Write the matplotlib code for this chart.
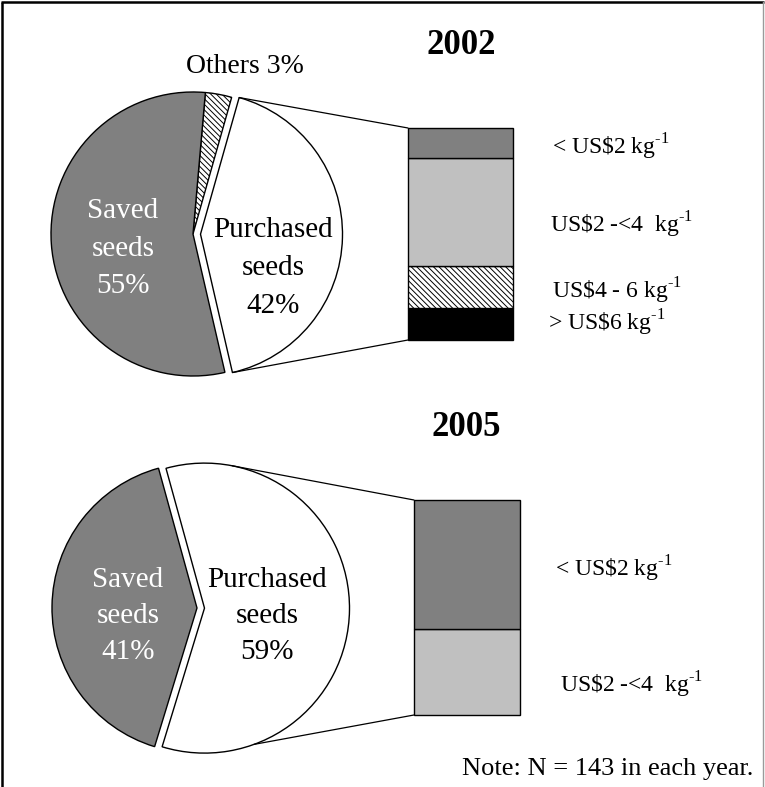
import matplotlib
matplotlib.use('Agg')
import matplotlib.pyplot as plt
from matplotlib.patches import ConnectionPatch
import numpy as np

plt.rcParams['font.family'] = ['Liberation Serif', 'DejaVu Serif']
plt.rcParams['mathtext.fontset'] = 'custom'
plt.rcParams['mathtext.rm'] = 'Liberation Serif'
plt.rcParams['hatch.linewidth'] = 0.7

W, H = 765, 787

# Data (percent)
pie_2002_labels = ['Purchased\nseeds\n42%', 'Others 3%', 'Saved\nseeds\n55%']
pie_2002_values = [42, 3, 55]
bar_2002_labels = ['> US\\$6 kg$^{\\text{-1}}$', 'US\\$4 - 6 kg$^{\\text{-1}}$',
                   'US\\$2 -<4  kg$^{\\text{-1}}$', '< US\\$2 kg$^{\\text{-1}}$']
bar_2002_values = [15, 20, 51, 14]   # share of purchased seeds, bottom to top

pie_2005_labels = ['Purchased\nseeds\n59%', 'Saved\nseeds\n41%']
pie_2005_values = [59, 41]
bar_2005_labels = ['US\\$2 -<4  kg$^{\\text{-1}}$', '< US\\$2 kg$^{\\text{-1}}$']
bar_2005_values = [40, 60]

HATCH = '\\' * 6

fig = plt.figure(figsize=(W / 100, H / 100), dpi=100)
ax = fig.add_axes([0, 0, 1, 1])


def reset_axes():
    ax.set_xlim(0, W)
    ax.set_ylim(0, H)
    ax.set_aspect('equal')
    ax.axis('off')


reset_axes()

# frame
ax.plot([2, 2], [0, H - 2], color='black', lw=1.8, solid_capstyle='butt')
ax.plot([1, W - 1], [H - 2, H - 2], color='black', lw=1.8, solid_capstyle='butt')
ax.plot([W - 2, W - 2], [0, H - 2], color='#9a9a9a', lw=1.0)

wp = dict(edgecolor='black', linewidth=1.0)


def fy(y):
    return H - y


def pie_text(x, baselines, text, color, size=21):
    for line, yb in zip(text.split('\n'), baselines):
        ax.text(x, fy(yb), line, ha='center', va='baseline', fontsize=size, color=color)


def stacked_bar(rect, values, colors, hatches):
    bax = fig.add_axes([rect[0] / W, fy(rect[3]) / H, (rect[2] - rect[0]) / W, (rect[3] - rect[1]) / H])
    bottom = 0
    for v, c, h in zip(values, colors, hatches):
        bars = bax.bar(0.5, v, width=1.0, bottom=bottom, color=c, edgecolor='black',
                       linewidth=1.0, hatch=h)
        for b in bars:
            b.set_clip_on(False)
        bottom += v
    bax.set_xlim(0, 1)
    bax.set_ylim(0, sum(values))
    bax.axis('off')
    return bax


def connect(bax, wedge, angles):
    cx, cy = wedge.center
    r = wedge.r
    for ang, yb in zip(angles, [1, 0]):
        p = (cx + r * np.cos(np.radians(ang)), cy + r * np.sin(np.radians(ang)))
        con = ConnectionPatch(xyA=p, coordsA=ax.transData, xyB=(0, yb), coordsB=bax.transAxes,
                              color='black', lw=0.9)
        fig.add_artist(con)


# ---- 2002 ----
w02, _ = ax.pie(pie_2002_values, colors=['white', 'white', '#808080'], startangle=-77,
                center=(193, fy(234)), radius=142, explode=[7.5, 0, 0],
                wedgeprops=wp, frame=True)
w02[1].set_hatch(HATCH)
reset_axes()

ax.text(461.5, fy(54), '2002', ha='center', va='baseline', fontsize=25, fontweight='bold')
ax.text(245, fy(73), pie_2002_labels[1], ha='center', va='baseline', fontsize=20)
pie_text(123, [218, 255.5, 293], pie_2002_labels[2], 'white')
pie_text(273, [237, 275, 313], pie_2002_labels[0], 'black')

b02 = stacked_bar((408, 128, 513, 340), bar_2002_values,
                  ['black', 'white', '#c0c0c0', '#808080'], [None, HATCH, None, None])
connect(b02, w02[0], [w02[0].theta2, w02[0].theta1])

for lab, x, yb in zip(bar_2002_labels, [548, 552, 550, 552], [330, 299, 232, 155]):
    ax.text(x, fy(yb), lab, ha='left', va='baseline', fontsize=17)

# ---- 2005 ----
w05, _ = ax.pie(pie_2005_values, colors=['white', '#808080'], startangle=-107,
                center=(197, fy(608)), radius=145, explode=[7.5, 0],
                wedgeprops=wp, frame=True)
reset_axes()

ax.text(466, fy(436), '2005', ha='center', va='baseline', fontsize=25, fontweight='bold')
pie_text(128, [587, 623, 659], pie_2005_labels[1], 'white')
pie_text(267, [587, 623, 659], pie_2005_labels[0], 'black')

b05 = stacked_bar((414, 500, 520, 715), bar_2005_values, ['#c0c0c0', '#808080'], [None, None])
connect(b05, w05[0], [79, -70])

for lab, x, yb in zip(bar_2005_labels, [560, 555], [692, 577]):
    ax.text(x, fy(yb), lab, ha='left', va='baseline', fontsize=17)

ax.text(753, fy(775), 'Note: N = 143 in each year.', ha='right', va='baseline', fontsize=19)

fig.savefig('out.png', dpi=100)
